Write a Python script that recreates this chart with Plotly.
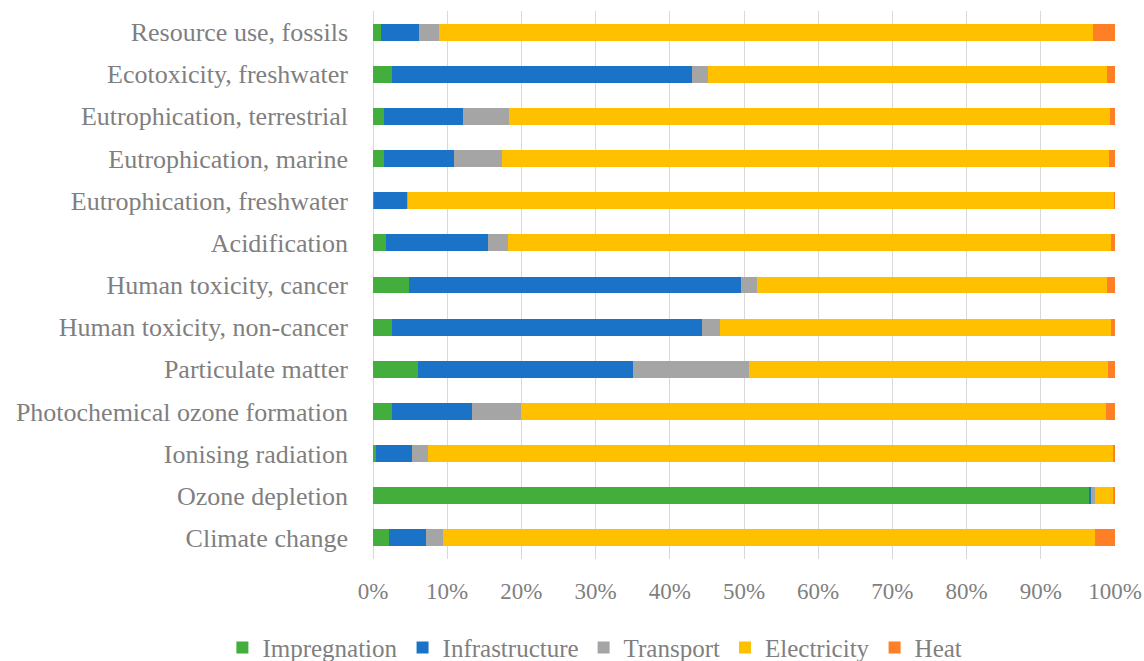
import plotly.graph_objects as go

categories = [
    "Climate change",
    "Ozone depletion",
    "Ionising radiation",
    "Photochemical ozone formation",
    "Particulate matter",
    "Human toxicity, non-cancer",
    "Human toxicity, cancer",
    "Acidification",
    "Eutrophication, freshwater",
    "Eutrophication, marine",
    "Eutrophication, terrestrial",
    "Ecotoxicity, freshwater",
    "Resource use, fossils",
]

impregnation = [2.2, 96.6, 0.4, 2.5, 6.0, 2.5, 4.9, 1.7, 0.2, 1.5, 1.5, 2.6, 1.1]
infrastructure = [5.0, 0.2, 4.9, 10.8, 29.0, 41.8, 44.7, 13.8, 4.4, 9.4, 10.6, 40.4, 5.1]
transport = [2.3, 0.5, 2.1, 6.7, 15.7, 2.4, 2.1, 2.7, 0.15, 6.5, 6.2, 2.2, 2.7]
electricity = [87.8, 2.55, 92.4, 78.8, 48.4, 52.8, 47.2, 81.2, 95.2, 81.8, 81.0, 53.7, 88.1]
heat = [2.7, 0.15, 0.2, 1.2, 0.9, 0.5, 1.1, 0.6, 0.05, 0.8, 0.7, 1.1, 3.0]

series = [
    ("Impregnation", impregnation, "#43AE3B"),
    ("Infrastructure", infrastructure, "#1B73C8"),
    ("Transport", transport, "#A5A5A5"),
    ("Electricity", electricity, "#FFC000"),
    ("Heat", heat, "#FF7F27"),
]

font_family = "Liberation Serif, Times New Roman, serif"
text_color = "#7F7F7F"

fig = go.Figure()
for name, vals, color in series:
    fig.add_trace(go.Bar(
        y=categories, x=vals, name=name, orientation="h",
        marker=dict(color=color, line=dict(width=0)),
    ))

fig.update_layout(
    barmode="stack",
    barnorm="percent",
    bargap=0.6,
    width=1144, height=661,
    margin=dict(l=373, r=29, t=11, b=102, autoexpand=False),
    plot_bgcolor="white",
    paper_bgcolor="white",
    font=dict(family=font_family, size=25, color=text_color),
    showlegend=True,
    legend=dict(
        orientation="h", x=0.52, xref="container", xanchor="center",
        y=0.02, yref="container", yanchor="middle",
        font=dict(size=25, color=text_color),
        traceorder="normal",
        itemwidth=30,
    ),
    xaxis=dict(
        range=[0, 100], dtick=10, ticksuffix="%",
        showgrid=True, gridcolor="#D9D9D9", gridwidth=1.3,
        zeroline=True, zerolinecolor="#D9D9D9", zerolinewidth=1.3,
        ticks="", ticklabelstandoff=16, automargin=False,
        tickfont=dict(size=23, color=text_color),
    ),
    yaxis=dict(
        categoryorder="array", categoryarray=categories,
        showgrid=False, ticks="", ticklabelstandoff=24, automargin=False,
        tickfont=dict(size=26, color=text_color),
        range=[-0.5, 12.5],
    ),
)

fig.write_html(
    "out.html",
    config={"displayModeBar": False},
    post_script="document.body.style.margin='0';document.body.style.padding='0';",
)
